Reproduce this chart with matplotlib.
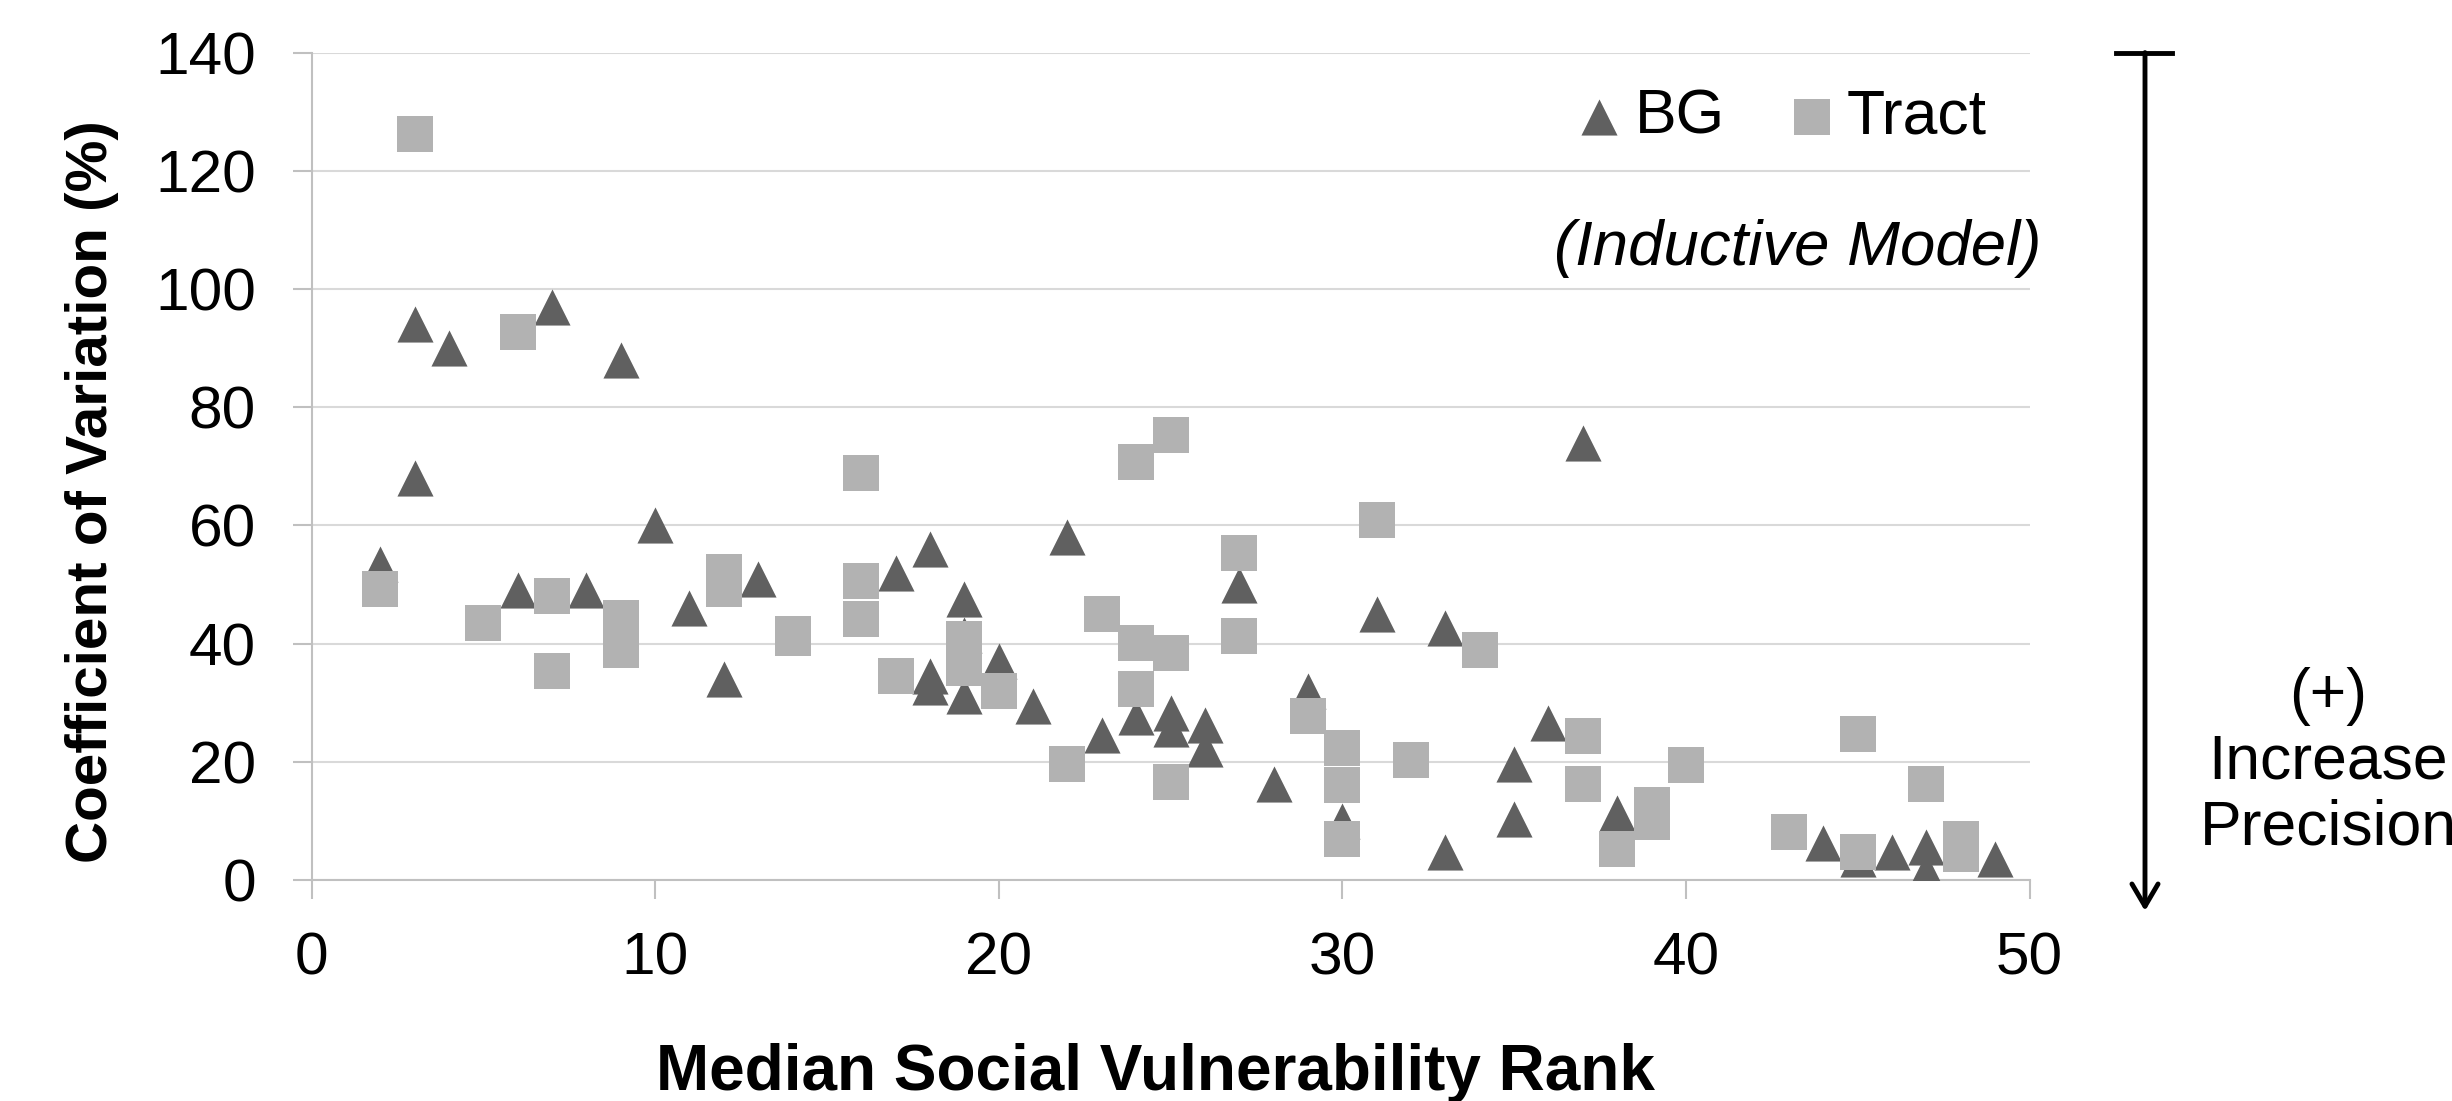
import matplotlib
matplotlib.use("Agg")
import matplotlib.pyplot as plt
from matplotlib.lines import Line2D

plt.rcParams['font.family'] = ['Liberation Sans', 'DejaVu Sans']

# BG (block group) points
bg_rank = [2, 3, 3, 4, 6, 7, 8, 9, 10, 11, 12, 13, 17, 18, 18, 18, 19, 19, 19,
           20, 21, 22, 23, 24, 25, 25, 26, 26, 27, 28, 29, 30, 31, 33, 33, 35,
           35, 36, 37, 38, 44, 45, 46, 47, 47, 49]
bg_cv = [53.5, 94, 68, 90, 49, 97, 49, 88, 60, 46, 34, 51, 52, 56, 34.5, 32.7,
         47.5, 41.4, 31.2, 37, 29.4, 58, 24.6, 27.6, 28.3, 25.6, 26.3, 22.2, 50,
         16.2, 32, 10, 45, 42.6, 4.7, 19.6, 10.4, 26.6, 74, 11.3, 6.2, 3.5, 4.7,
         5.6, 1.5, 3.6]

# Tract points
tract_rank = [2, 3, 5, 6, 7, 7, 9, 9, 12, 12, 14, 14, 16, 16, 16, 17, 19, 19,
              20, 22, 23, 24, 24, 24, 25, 25, 25, 27, 27, 29, 30, 30, 30, 31,
              32, 34, 37, 37, 38, 39, 39, 40, 43, 45, 45, 47, 48, 48]
tract_cv = [49.2, 126.3, 43.5, 92.7, 48, 35.4, 44.4, 38.9, 52.1, 49.3, 41.7,
            40.9, 68.8, 50.6, 44.1, 34.5, 40.7, 35.8, 32, 19.7, 45, 70.8, 40.1,
            32.4, 75.3, 38.4, 16.5, 55.4, 41.3, 27.8, 22.3, 16, 7, 60.9, 20.3,
            39, 24.4, 16.2, 5.3, 12.7, 9.8, 19.5, 8.2, 24.7, 4.7, 16.2, 7, 4.4]

W, H = 2452, 1101
fig = plt.figure(figsize=(W / 100, H / 100), dpi=100)
ax = fig.add_axes([311.5 / W, 221 / H, 1718 / W, 827.4 / H])

fs = 45
ms = 26
ax.scatter(bg_rank, bg_cv, marker='^', s=ms ** 2, color='#606060',
           linewidths=0, label='BG', zorder=3)
ax.scatter(tract_rank, tract_cv, marker='s', s=ms ** 2, color='#b2b2b2',
           linewidths=0, label='Tract', zorder=4)

ax.set_xlim(0, 50)
ax.set_ylim(0, 140)
ax.set_xticks(range(0, 51, 10))
ax.set_yticks(range(0, 141, 20))
ax.grid(axis='y', color='#d9d9d9', linewidth=1.5, zorder=0)
ax.set_axisbelow(True)
for side in ['top', 'right']:
    ax.spines[side].set_visible(False)
for side in ['left', 'bottom']:
    ax.spines[side].set_color('#c0c0c0')
    ax.spines[side].set_linewidth(1.5)
ax.tick_params(axis='both', colors='#c0c0c0', width=1.5, length=14,
               labelsize=43.5, labelcolor='black')
ax.tick_params(axis='x', pad=23)
ax.tick_params(axis='y', pad=26)

ax.set_xlabel('Median Social Vulnerability Rank', fontsize=46,
              fontweight='bold', va='baseline', ha='center')
ax.xaxis.set_label_coords(0.4915, -0.2538)
ax.set_ylabel('Coefficient of Variation (%)', fontsize=42,
              fontweight='bold', va='center', ha='center')
ax.yaxis.set_label_coords(-0.1278, 0.469)

ax.legend(loc='center right', bbox_to_anchor=(1987 / W, 1 - 117 / H),
          bbox_transform=fig.transFigure, ncol=2, frameon=False,
          fontsize=fs, handlelength=0.6, handletextpad=0.26,
          columnspacing=1.1, borderpad=0, borderaxespad=0, markerscale=1)

fig.text(2041 / W, 1 - 249 / H, '(Inductive Model)', fontsize=45.7,
         style='italic', ha='right', va='center')

# precision arrow on the right
arrow_x = 2145
fig.add_artist(Line2D([2116 / W, 2172 / W], [1 - 52.6 / H, 1 - 52.6 / H],
                      transform=fig.transFigure, color='black', linewidth=3.5))
ax.annotate('', xy=(arrow_x, H - 911), xytext=(arrow_x, H - 52.6),
            xycoords='figure pixels', textcoords='figure pixels',
            arrowprops=dict(arrowstyle='->,head_length=0.8,head_width=0.47',
                            mutation_scale=20, lw=3.5, color='black',
                            shrinkA=0, shrinkB=0))
fig.text(2328 / W, 1 - 762 / H, '(+)\nIncrease\nPrecision', fontsize=fs,
         ha='center', va='center', linespacing=1.15)

fig.savefig('out.png', dpi=100)
